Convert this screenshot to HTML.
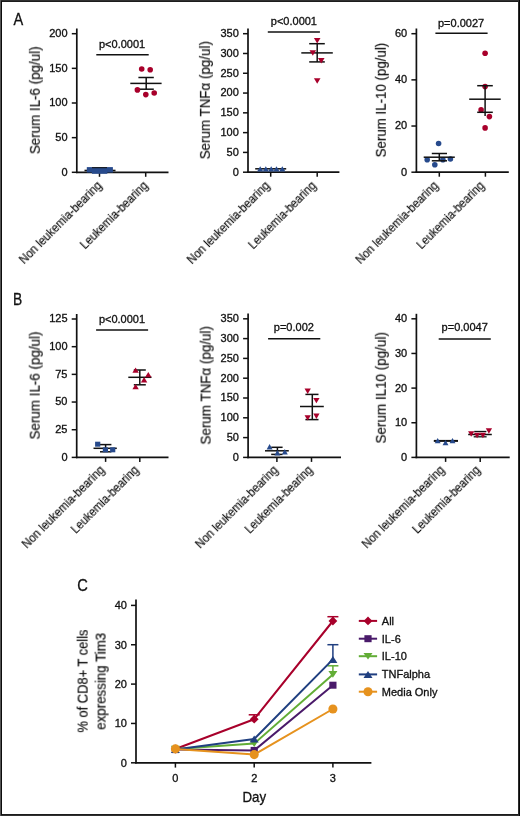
<!DOCTYPE html>
<html><head><meta charset="utf-8"><title>Figure</title><style>html,body{margin:0;padding:0;background:#fff;}body{width:520px;height:816px;overflow:hidden;position:relative;font-family:"Liberation Sans", sans-serif;}</style></head><body>
<svg width="520" height="816" viewBox="0 0 520 816" style="position:absolute;left:0;top:0;font-family:'Liberation Sans', sans-serif;fill:#111">
<defs><filter id="gray" x="-5%" y="-20%" width="110%" height="140%" color-interpolation-filters="sRGB"><feColorMatrix type="saturate" values="0"/></filter></defs>
<style>text{stroke:#111;stroke-width:0.32px;filter:url(#gray);} text.r{stroke-width:0.2px;}</style>
<rect x="0" y="0" width="520" height="816" fill="#fff"/>
<text x="13.50" y="25.00" font-size="16.5" text-anchor="start" textLength="9.7" lengthAdjust="spacingAndGlyphs">A</text>
<text x="13.00" y="304.60" font-size="16.5" text-anchor="start" textLength="9.2" lengthAdjust="spacingAndGlyphs">B</text>
<text x="77.30" y="591.40" font-size="16.5" text-anchor="start" textLength="10.6" lengthAdjust="spacingAndGlyphs">C</text>
<line x1="76.80" y1="28.50" x2="76.80" y2="173.10" stroke="#111" stroke-width="1.7"/>
<line x1="76.00" y1="172.30" x2="168.50" y2="172.30" stroke="#111" stroke-width="1.7"/>
<line x1="71.80" y1="172.30" x2="76.80" y2="172.30" stroke="#111" stroke-width="1.5"/>
<text x="67.60" y="175.70" font-size="11" text-anchor="end" >0</text>
<line x1="71.80" y1="137.65" x2="76.80" y2="137.65" stroke="#111" stroke-width="1.5"/>
<text x="67.60" y="141.05" font-size="11" text-anchor="end" >50</text>
<line x1="71.80" y1="103.00" x2="76.80" y2="103.00" stroke="#111" stroke-width="1.5"/>
<text x="67.60" y="106.40" font-size="11" text-anchor="end" >100</text>
<line x1="71.80" y1="68.35" x2="76.80" y2="68.35" stroke="#111" stroke-width="1.5"/>
<text x="67.60" y="71.75" font-size="11" text-anchor="end" >150</text>
<line x1="71.80" y1="33.70" x2="76.80" y2="33.70" stroke="#111" stroke-width="1.5"/>
<text x="67.60" y="37.10" font-size="11" text-anchor="end" >200</text>
<line x1="99.50" y1="172.30" x2="99.50" y2="176.80" stroke="#111" stroke-width="1.5"/>
<line x1="145.70" y1="172.30" x2="145.70" y2="176.80" stroke="#111" stroke-width="1.5"/>
<text class="r" x="0" y="0" font-size="14.5" text-anchor="middle" transform="translate(39.85,100.35) rotate(-90)" textLength="107.7" lengthAdjust="spacingAndGlyphs">Serum IL-6 (pg/ul)</text>
<text class="r" x="0" y="0" font-size="12.2" text-anchor="end" textLength="110.8" lengthAdjust="spacingAndGlyphs" transform="translate(102.40,186.30) rotate(-45)">Non leukemia-bearing</text>
<text class="r" x="0" y="0" font-size="12.2" text-anchor="end" textLength="89.7" lengthAdjust="spacingAndGlyphs" transform="translate(148.60,186.30) rotate(-45)">Leukemia-bearing</text>
<line x1="96.30" y1="54.70" x2="148.70" y2="54.70" stroke="#111" stroke-width="1.5"/>
<text x="99.00" y="47.80" font-size="11" text-anchor="start" >p&lt;0.0001</text>
<line x1="84.50" y1="170.50" x2="115.50" y2="170.50" stroke="#111" stroke-width="1.6"/>
<rect x="86.80" y="167.10" width="26.10" height="5.40" fill="#274a8c"/>
<rect x="91.90" y="170.00" width="15.40" height="3.80" fill="#274a8c"/>
<line x1="92.00" y1="167.70" x2="107.00" y2="167.70" stroke="#111" stroke-width="1.0"/>
<line x1="146.20" y1="77.50" x2="146.20" y2="89.20" stroke="#111" stroke-width="1.5"/>
<line x1="138.40" y1="77.50" x2="153.80" y2="77.50" stroke="#111" stroke-width="1.5"/>
<line x1="138.40" y1="89.20" x2="153.80" y2="89.20" stroke="#111" stroke-width="1.5"/>
<line x1="130.30" y1="83.40" x2="161.60" y2="83.40" stroke="#111" stroke-width="1.5"/>
<circle cx="141.70" cy="69.00" r="2.8" fill="#a8002b"/>
<circle cx="150.20" cy="69.80" r="2.8" fill="#a8002b"/>
<circle cx="137.40" cy="89.90" r="2.8" fill="#a8002b"/>
<circle cx="145.80" cy="94.60" r="2.8" fill="#a8002b"/>
<circle cx="154.20" cy="93.00" r="2.8" fill="#a8002b"/>
<line x1="248.00" y1="28.50" x2="248.00" y2="173.00" stroke="#111" stroke-width="1.7"/>
<line x1="247.20" y1="172.20" x2="339.40" y2="172.20" stroke="#111" stroke-width="1.7"/>
<line x1="243.00" y1="172.20" x2="248.00" y2="172.20" stroke="#111" stroke-width="1.5"/>
<text x="238.80" y="175.60" font-size="11" text-anchor="end" >0</text>
<line x1="243.00" y1="152.41" x2="248.00" y2="152.41" stroke="#111" stroke-width="1.5"/>
<text x="238.80" y="155.81" font-size="11" text-anchor="end" >50</text>
<line x1="243.00" y1="132.63" x2="248.00" y2="132.63" stroke="#111" stroke-width="1.5"/>
<text x="238.80" y="136.03" font-size="11" text-anchor="end" >100</text>
<line x1="243.00" y1="112.84" x2="248.00" y2="112.84" stroke="#111" stroke-width="1.5"/>
<text x="238.80" y="116.24" font-size="11" text-anchor="end" >150</text>
<line x1="243.00" y1="93.06" x2="248.00" y2="93.06" stroke="#111" stroke-width="1.5"/>
<text x="238.80" y="96.46" font-size="11" text-anchor="end" >200</text>
<line x1="243.00" y1="73.27" x2="248.00" y2="73.27" stroke="#111" stroke-width="1.5"/>
<text x="238.80" y="76.67" font-size="11" text-anchor="end" >250</text>
<line x1="243.00" y1="53.49" x2="248.00" y2="53.49" stroke="#111" stroke-width="1.5"/>
<text x="238.80" y="56.89" font-size="11" text-anchor="end" >300</text>
<line x1="243.00" y1="33.70" x2="248.00" y2="33.70" stroke="#111" stroke-width="1.5"/>
<text x="238.80" y="37.10" font-size="11" text-anchor="end" >350</text>
<line x1="270.70" y1="172.20" x2="270.70" y2="176.70" stroke="#111" stroke-width="1.5"/>
<line x1="317.20" y1="172.20" x2="317.20" y2="176.70" stroke="#111" stroke-width="1.5"/>
<text class="r" x="0" y="0" font-size="14.5" text-anchor="middle" transform="translate(209.90,100.30) rotate(-90)" textLength="118.2" lengthAdjust="spacingAndGlyphs">Serum TNF&#945; (pg/ul)</text>
<text class="r" x="0" y="0" font-size="12.2" text-anchor="end" textLength="110.8" lengthAdjust="spacingAndGlyphs" transform="translate(270.30,186.40) rotate(-45)">Non leukemia-bearing</text>
<text class="r" x="0" y="0" font-size="12.2" text-anchor="end" textLength="89.7" lengthAdjust="spacingAndGlyphs" transform="translate(316.80,186.40) rotate(-45)">Leukemia-bearing</text>
<line x1="267.80" y1="32.00" x2="319.90" y2="32.00" stroke="#111" stroke-width="1.5"/>
<text x="270.80" y="24.50" font-size="11" text-anchor="start" >p&lt;0.0001</text>
<line x1="255.20" y1="168.80" x2="286.20" y2="168.80" stroke="#111" stroke-width="1.5"/>
<polygon points="260.20,166.20 257.10,171.40 263.30,171.40" fill="#274a8c"/>
<polygon points="265.80,166.20 262.70,171.40 268.90,171.40" fill="#274a8c"/>
<polygon points="271.20,166.20 268.10,171.40 274.30,171.40" fill="#274a8c"/>
<polygon points="276.50,166.20 273.40,171.40 279.60,171.40" fill="#274a8c"/>
<polygon points="282.30,166.20 279.20,171.40 285.40,171.40" fill="#274a8c"/>
<line x1="317.20" y1="43.70" x2="317.20" y2="61.90" stroke="#111" stroke-width="1.5"/>
<line x1="309.20" y1="43.70" x2="324.80" y2="43.70" stroke="#111" stroke-width="1.5"/>
<line x1="309.20" y1="61.90" x2="324.80" y2="61.90" stroke="#111" stroke-width="1.5"/>
<line x1="301.30" y1="52.90" x2="332.80" y2="52.90" stroke="#111" stroke-width="1.5"/>
<polygon points="313.90,38.00 320.50,38.00 317.20,43.50" fill="#a8002b"/>
<polygon points="309.50,50.20 316.10,50.20 312.80,55.70" fill="#a8002b"/>
<polygon points="317.95,58.00 324.55,58.00 321.25,63.50" fill="#a8002b"/>
<polygon points="313.90,78.20 320.50,78.20 317.20,83.70" fill="#a8002b"/>
<line x1="416.40" y1="28.50" x2="416.40" y2="173.00" stroke="#111" stroke-width="1.7"/>
<line x1="415.60" y1="172.20" x2="508.80" y2="172.20" stroke="#111" stroke-width="1.7"/>
<line x1="411.40" y1="172.20" x2="416.40" y2="172.20" stroke="#111" stroke-width="1.5"/>
<text x="407.20" y="175.60" font-size="11" text-anchor="end" >0</text>
<line x1="411.40" y1="126.03" x2="416.40" y2="126.03" stroke="#111" stroke-width="1.5"/>
<text x="407.20" y="129.43" font-size="11" text-anchor="end" >20</text>
<line x1="411.40" y1="79.87" x2="416.40" y2="79.87" stroke="#111" stroke-width="1.5"/>
<text x="407.20" y="83.27" font-size="11" text-anchor="end" >40</text>
<line x1="411.40" y1="33.70" x2="416.40" y2="33.70" stroke="#111" stroke-width="1.5"/>
<text x="407.20" y="37.10" font-size="11" text-anchor="end" >60</text>
<line x1="439.30" y1="172.20" x2="439.30" y2="176.70" stroke="#111" stroke-width="1.5"/>
<line x1="485.40" y1="172.20" x2="485.40" y2="176.70" stroke="#111" stroke-width="1.5"/>
<text class="r" x="0" y="0" font-size="14.5" text-anchor="middle" transform="translate(385.80,100.10) rotate(-90)" textLength="114.6" lengthAdjust="spacingAndGlyphs">Serum IL-10 (pg/ul)</text>
<text class="r" x="0" y="0" font-size="12.2" text-anchor="end" textLength="110.8" lengthAdjust="spacingAndGlyphs" transform="translate(438.90,186.40) rotate(-45)">Non leukemia-bearing</text>
<text class="r" x="0" y="0" font-size="12.2" text-anchor="end" textLength="89.7" lengthAdjust="spacingAndGlyphs" transform="translate(485.00,186.40) rotate(-45)">Leukemia-bearing</text>
<line x1="435.40" y1="33.30" x2="487.60" y2="33.30" stroke="#111" stroke-width="1.5"/>
<text x="438.00" y="27.20" font-size="11" text-anchor="start" >p=0.0027</text>
<circle cx="438.60" cy="143.50" r="2.8" fill="#274a8c"/>
<circle cx="427.20" cy="159.80" r="2.8" fill="#274a8c"/>
<circle cx="434.80" cy="164.80" r="2.8" fill="#274a8c"/>
<circle cx="442.90" cy="159.80" r="2.8" fill="#274a8c"/>
<circle cx="450.40" cy="159.00" r="2.8" fill="#274a8c"/>
<line x1="439.30" y1="153.50" x2="439.30" y2="160.80" stroke="#111" stroke-width="1.5"/>
<line x1="431.80" y1="153.50" x2="447.00" y2="153.50" stroke="#111" stroke-width="1.5"/>
<line x1="431.80" y1="160.80" x2="447.00" y2="160.80" stroke="#111" stroke-width="1.5"/>
<line x1="423.70" y1="157.20" x2="454.80" y2="157.20" stroke="#111" stroke-width="1.5"/>
<circle cx="485.10" cy="53.20" r="2.8" fill="#a8002b"/>
<circle cx="485.10" cy="86.60" r="2.8" fill="#a8002b"/>
<circle cx="481.10" cy="109.90" r="2.8" fill="#a8002b"/>
<circle cx="489.40" cy="116.60" r="2.8" fill="#a8002b"/>
<circle cx="485.10" cy="127.90" r="2.8" fill="#a8002b"/>
<line x1="485.10" y1="85.70" x2="485.10" y2="112.30" stroke="#111" stroke-width="1.5"/>
<line x1="477.20" y1="85.70" x2="492.80" y2="85.70" stroke="#111" stroke-width="1.5"/>
<line x1="477.20" y1="112.30" x2="492.80" y2="112.30" stroke="#111" stroke-width="1.5"/>
<line x1="469.20" y1="99.20" x2="500.70" y2="99.20" stroke="#111" stroke-width="1.5"/>
<line x1="485.10" y1="112.30" x2="485.10" y2="116.00" stroke="#111" stroke-width="1.5"/>
<line x1="76.70" y1="314.00" x2="76.70" y2="458.20" stroke="#111" stroke-width="1.7"/>
<line x1="75.90" y1="457.40" x2="168.50" y2="457.40" stroke="#111" stroke-width="1.7"/>
<line x1="71.70" y1="457.40" x2="76.70" y2="457.40" stroke="#111" stroke-width="1.5"/>
<text x="67.50" y="460.80" font-size="11" text-anchor="end" >0</text>
<line x1="71.70" y1="429.72" x2="76.70" y2="429.72" stroke="#111" stroke-width="1.5"/>
<text x="67.50" y="433.12" font-size="11" text-anchor="end" >25</text>
<line x1="71.70" y1="402.04" x2="76.70" y2="402.04" stroke="#111" stroke-width="1.5"/>
<text x="67.50" y="405.44" font-size="11" text-anchor="end" >50</text>
<line x1="71.70" y1="374.36" x2="76.70" y2="374.36" stroke="#111" stroke-width="1.5"/>
<text x="67.50" y="377.76" font-size="11" text-anchor="end" >75</text>
<line x1="71.70" y1="346.68" x2="76.70" y2="346.68" stroke="#111" stroke-width="1.5"/>
<text x="67.50" y="350.08" font-size="11" text-anchor="end" >100</text>
<line x1="71.70" y1="319.00" x2="76.70" y2="319.00" stroke="#111" stroke-width="1.5"/>
<text x="67.50" y="322.40" font-size="11" text-anchor="end" >125</text>
<line x1="105.60" y1="457.40" x2="105.60" y2="461.90" stroke="#111" stroke-width="1.5"/>
<line x1="139.80" y1="457.40" x2="139.80" y2="461.90" stroke="#111" stroke-width="1.5"/>
<text class="r" x="0" y="0" font-size="14.5" text-anchor="middle" transform="translate(39.70,385.50) rotate(-90)" textLength="108.0" lengthAdjust="spacingAndGlyphs">Serum IL-6 (pg/ul)</text>
<text class="r" x="0" y="0" font-size="12.2" text-anchor="end" textLength="110.8" lengthAdjust="spacingAndGlyphs" transform="translate(105.20,470.80) rotate(-45)">Non leukemia-bearing</text>
<text class="r" x="0" y="0" font-size="12.2" text-anchor="end" textLength="89.7" lengthAdjust="spacingAndGlyphs" transform="translate(139.40,470.80) rotate(-45)">Leukemia-bearing</text>
<line x1="96.10" y1="330.10" x2="148.10" y2="330.10" stroke="#111" stroke-width="1.5"/>
<text x="98.90" y="323.20" font-size="11" text-anchor="start" >p&lt;0.0001</text>
<line x1="105.60" y1="444.60" x2="105.60" y2="451.80" stroke="#111" stroke-width="1.5"/>
<line x1="100.00" y1="444.60" x2="111.40" y2="444.60" stroke="#111" stroke-width="1.5"/>
<line x1="100.00" y1="451.80" x2="111.40" y2="451.80" stroke="#111" stroke-width="1.5"/>
<line x1="93.50" y1="448.30" x2="116.80" y2="448.30" stroke="#111" stroke-width="1.5"/>
<rect x="95.10" y="441.70" width="5.20" height="5.00" fill="#274a8c"/>
<rect x="102.80" y="447.30" width="5.20" height="5.00" fill="#274a8c"/>
<rect x="110.10" y="447.30" width="5.20" height="5.00" fill="#274a8c"/>
<line x1="139.80" y1="370.00" x2="139.80" y2="384.80" stroke="#111" stroke-width="1.5"/>
<line x1="133.80" y1="370.00" x2="145.80" y2="370.00" stroke="#111" stroke-width="1.5"/>
<line x1="133.80" y1="384.80" x2="145.80" y2="384.80" stroke="#111" stroke-width="1.5"/>
<line x1="128.30" y1="377.30" x2="151.50" y2="377.30" stroke="#111" stroke-width="1.5"/>
<polygon points="135.60,367.50 132.40,372.80 138.80,372.80" fill="#a8002b"/>
<polygon points="148.30,372.00 145.10,377.30 151.50,377.30" fill="#a8002b"/>
<polygon points="144.10,377.10 140.90,382.40 147.30,382.40" fill="#a8002b"/>
<polygon points="135.60,384.00 132.40,389.30 138.80,389.30" fill="#a8002b"/>
<line x1="248.10" y1="313.60" x2="248.10" y2="458.20" stroke="#111" stroke-width="1.7"/>
<line x1="247.30" y1="457.40" x2="341.00" y2="457.40" stroke="#111" stroke-width="1.7"/>
<line x1="243.10" y1="457.40" x2="248.10" y2="457.40" stroke="#111" stroke-width="1.5"/>
<text x="238.90" y="460.80" font-size="11" text-anchor="end" >0</text>
<line x1="243.10" y1="437.60" x2="248.10" y2="437.60" stroke="#111" stroke-width="1.5"/>
<text x="238.90" y="441.00" font-size="11" text-anchor="end" >50</text>
<line x1="243.10" y1="417.80" x2="248.10" y2="417.80" stroke="#111" stroke-width="1.5"/>
<text x="238.90" y="421.20" font-size="11" text-anchor="end" >100</text>
<line x1="243.10" y1="398.00" x2="248.10" y2="398.00" stroke="#111" stroke-width="1.5"/>
<text x="238.90" y="401.40" font-size="11" text-anchor="end" >150</text>
<line x1="243.10" y1="378.20" x2="248.10" y2="378.20" stroke="#111" stroke-width="1.5"/>
<text x="238.90" y="381.60" font-size="11" text-anchor="end" >200</text>
<line x1="243.10" y1="358.40" x2="248.10" y2="358.40" stroke="#111" stroke-width="1.5"/>
<text x="238.90" y="361.80" font-size="11" text-anchor="end" >250</text>
<line x1="243.10" y1="338.60" x2="248.10" y2="338.60" stroke="#111" stroke-width="1.5"/>
<text x="238.90" y="342.00" font-size="11" text-anchor="end" >300</text>
<line x1="243.10" y1="318.80" x2="248.10" y2="318.80" stroke="#111" stroke-width="1.5"/>
<text x="238.90" y="322.20" font-size="11" text-anchor="end" >350</text>
<line x1="276.90" y1="457.40" x2="276.90" y2="461.90" stroke="#111" stroke-width="1.5"/>
<line x1="311.50" y1="457.40" x2="311.50" y2="461.90" stroke="#111" stroke-width="1.5"/>
<text class="r" x="0" y="0" font-size="14.5" text-anchor="middle" transform="translate(210.60,385.35) rotate(-90)" textLength="118.5" lengthAdjust="spacingAndGlyphs">Serum TNF&#945; (pg/ul)</text>
<text class="r" x="0" y="0" font-size="12.2" text-anchor="end" textLength="110.8" lengthAdjust="spacingAndGlyphs" transform="translate(278.60,470.80) rotate(-45)">Non leukemia-bearing</text>
<text class="r" x="0" y="0" font-size="12.2" text-anchor="end" textLength="89.7" lengthAdjust="spacingAndGlyphs" transform="translate(313.30,470.80) rotate(-45)">Leukemia-bearing</text>
<line x1="268.10" y1="338.80" x2="320.30" y2="338.80" stroke="#111" stroke-width="1.5"/>
<text x="273.80" y="331.00" font-size="11" text-anchor="start" >p=0.002</text>
<line x1="277.40" y1="447.30" x2="277.40" y2="454.40" stroke="#111" stroke-width="1.5"/>
<line x1="271.20" y1="447.30" x2="282.60" y2="447.30" stroke="#111" stroke-width="1.5"/>
<line x1="271.20" y1="454.40" x2="282.60" y2="454.40" stroke="#111" stroke-width="1.5"/>
<line x1="265.00" y1="450.80" x2="288.80" y2="450.80" stroke="#111" stroke-width="1.5"/>
<polygon points="269.60,444.10 266.60,449.40 272.60,449.40" fill="#274a8c"/>
<polygon points="277.40,450.10 274.40,455.40 280.40,455.40" fill="#274a8c"/>
<polygon points="284.80,449.10 281.80,454.40 287.80,454.40" fill="#274a8c"/>
<line x1="312.30" y1="394.40" x2="312.30" y2="419.60" stroke="#111" stroke-width="1.5"/>
<line x1="305.40" y1="394.40" x2="318.50" y2="394.40" stroke="#111" stroke-width="1.5"/>
<line x1="305.40" y1="419.60" x2="318.50" y2="419.60" stroke="#111" stroke-width="1.5"/>
<line x1="300.00" y1="406.50" x2="323.80" y2="406.50" stroke="#111" stroke-width="1.5"/>
<polygon points="304.55,388.60 310.85,388.60 307.70,393.90" fill="#a8002b"/>
<polygon points="313.25,397.90 319.55,397.90 316.40,403.20" fill="#a8002b"/>
<polygon points="313.25,413.60 319.55,413.60 316.40,418.90" fill="#a8002b"/>
<polygon points="304.55,415.20 310.85,415.20 307.70,420.50" fill="#a8002b"/>
<line x1="416.40" y1="313.80" x2="416.40" y2="458.20" stroke="#111" stroke-width="1.7"/>
<line x1="415.60" y1="457.40" x2="509.70" y2="457.40" stroke="#111" stroke-width="1.7"/>
<line x1="411.40" y1="457.40" x2="416.40" y2="457.40" stroke="#111" stroke-width="1.5"/>
<text x="407.20" y="460.80" font-size="11" text-anchor="end" >0</text>
<line x1="411.40" y1="422.75" x2="416.40" y2="422.75" stroke="#111" stroke-width="1.5"/>
<text x="407.20" y="426.15" font-size="11" text-anchor="end" >10</text>
<line x1="411.40" y1="388.10" x2="416.40" y2="388.10" stroke="#111" stroke-width="1.5"/>
<text x="407.20" y="391.50" font-size="11" text-anchor="end" >20</text>
<line x1="411.40" y1="353.45" x2="416.40" y2="353.45" stroke="#111" stroke-width="1.5"/>
<text x="407.20" y="356.85" font-size="11" text-anchor="end" >30</text>
<line x1="411.40" y1="318.80" x2="416.40" y2="318.80" stroke="#111" stroke-width="1.5"/>
<text x="407.20" y="322.20" font-size="11" text-anchor="end" >40</text>
<line x1="445.60" y1="457.40" x2="445.60" y2="461.90" stroke="#111" stroke-width="1.5"/>
<line x1="480.20" y1="457.40" x2="480.20" y2="461.90" stroke="#111" stroke-width="1.5"/>
<text class="r" x="0" y="0" font-size="14.5" text-anchor="middle" transform="translate(385.80,387.75) rotate(-90)" textLength="111.3" lengthAdjust="spacingAndGlyphs">Serum IL10 (pg/ul)</text>
<text class="r" x="0" y="0" font-size="12.2" text-anchor="end" textLength="110.8" lengthAdjust="spacingAndGlyphs" transform="translate(445.20,470.80) rotate(-45)">Non leukemia-bearing</text>
<text class="r" x="0" y="0" font-size="12.2" text-anchor="end" textLength="89.7" lengthAdjust="spacingAndGlyphs" transform="translate(480.90,470.80) rotate(-45)">Leukemia-bearing</text>
<line x1="438.70" y1="339.00" x2="490.80" y2="339.00" stroke="#111" stroke-width="1.5"/>
<text x="441.60" y="331.40" font-size="11" text-anchor="start" >p=0.0047</text>
<line x1="433.80" y1="440.90" x2="458.00" y2="440.90" stroke="#111" stroke-width="2.0"/>
<polygon points="437.70,438.00 434.75,443.30 440.65,443.30" fill="#274a8c"/>
<polygon points="445.50,439.90 442.55,445.20 448.45,445.20" fill="#274a8c"/>
<polygon points="452.50,438.00 449.55,443.30 455.45,443.30" fill="#274a8c"/>
<line x1="468.20" y1="434.50" x2="491.80" y2="434.50" stroke="#111" stroke-width="1.5"/>
<line x1="474.20" y1="431.50" x2="486.40" y2="431.50" stroke="#111" stroke-width="1.3"/>
<line x1="473.70" y1="436.80" x2="486.60" y2="436.80" stroke="#111" stroke-width="1.3"/>
<polygon points="468.05,431.20 474.35,431.20 471.20,436.70" fill="#a8002b"/>
<polygon points="473.95,432.80 480.25,432.80 477.10,438.30" fill="#a8002b"/>
<polygon points="479.75,432.80 486.05,432.80 482.90,438.30" fill="#a8002b"/>
<polygon points="485.75,428.30 492.05,428.30 488.90,433.80" fill="#a8002b"/>
<line x1="136.00" y1="599.60" x2="136.00" y2="763.60" stroke="#111" stroke-width="1.7"/>
<line x1="135.20" y1="762.80" x2="371.40" y2="762.80" stroke="#111" stroke-width="1.7"/>
<line x1="131.00" y1="762.80" x2="136.00" y2="762.80" stroke="#111" stroke-width="1.5"/>
<text x="126.90" y="766.80" font-size="11" text-anchor="end" >0</text>
<line x1="131.00" y1="723.45" x2="136.00" y2="723.45" stroke="#111" stroke-width="1.5"/>
<text x="126.90" y="727.45" font-size="11" text-anchor="end" >10</text>
<line x1="131.00" y1="684.10" x2="136.00" y2="684.10" stroke="#111" stroke-width="1.5"/>
<text x="126.90" y="688.10" font-size="11" text-anchor="end" >20</text>
<line x1="131.00" y1="644.75" x2="136.00" y2="644.75" stroke="#111" stroke-width="1.5"/>
<text x="126.90" y="648.75" font-size="11" text-anchor="end" >30</text>
<line x1="131.00" y1="605.40" x2="136.00" y2="605.40" stroke="#111" stroke-width="1.5"/>
<text x="126.90" y="609.40" font-size="11" text-anchor="end" >40</text>
<line x1="175.40" y1="762.80" x2="175.40" y2="767.60" stroke="#111" stroke-width="1.5"/>
<text x="175.40" y="781.90" font-size="11" text-anchor="middle" >0</text>
<line x1="254.20" y1="762.80" x2="254.20" y2="767.60" stroke="#111" stroke-width="1.5"/>
<text x="254.20" y="781.90" font-size="11" text-anchor="middle" >2</text>
<line x1="332.90" y1="762.80" x2="332.90" y2="767.60" stroke="#111" stroke-width="1.5"/>
<text x="332.90" y="781.90" font-size="11" text-anchor="middle" >3</text>
<text x="254.30" y="801.80" font-size="14.5" text-anchor="middle" textLength="23.6" lengthAdjust="spacingAndGlyphs">Day</text>
<text class="r" x="0" y="0" font-size="14" text-anchor="middle" textLength="103" lengthAdjust="spacingAndGlyphs" transform="translate(87.6,681.1) rotate(-90)">% of CD8+ T cells</text>
<text class="r" x="0" y="0" font-size="14" text-anchor="middle" textLength="97" lengthAdjust="spacingAndGlyphs" transform="translate(105.6,681.35) rotate(-90)">expressing Tim3</text>
<line x1="254.20" y1="714.80" x2="254.20" y2="719.20" stroke="#a8002b" stroke-width="1.5"/>
<line x1="248.70" y1="714.80" x2="259.70" y2="714.80" stroke="#a8002b" stroke-width="1.5"/>
<line x1="332.90" y1="616.70" x2="332.90" y2="621.00" stroke="#a8002b" stroke-width="1.5"/>
<line x1="327.40" y1="616.70" x2="338.40" y2="616.70" stroke="#a8002b" stroke-width="1.5"/>
<polyline points="175.40,749.00 254.20,719.20 332.90,621.00" fill="none" stroke="#a8002b" stroke-width="2.0" stroke-linejoin="round"/>
<polygon points="175.40,744.60 179.80,749.00 175.40,753.40 171.00,749.00" fill="#a8002b"/>
<polygon points="254.20,714.80 258.60,719.20 254.20,723.60 249.80,719.20" fill="#a8002b"/>
<polygon points="332.90,616.60 337.30,621.00 332.90,625.40 328.50,621.00" fill="#a8002b"/>
<polyline points="175.40,749.60 254.20,750.40 332.90,685.20" fill="none" stroke="#4a1a6a" stroke-width="2.0" stroke-linejoin="round"/>
<rect x="171.80" y="746.10" width="7.20" height="7.00" fill="#4a1a6a"/>
<rect x="250.60" y="746.90" width="7.20" height="7.00" fill="#4a1a6a"/>
<rect x="329.30" y="681.70" width="7.20" height="7.00" fill="#4a1a6a"/>
<line x1="332.90" y1="665.80" x2="332.90" y2="674.40" stroke="#62ad36" stroke-width="1.5"/>
<line x1="327.40" y1="665.80" x2="338.40" y2="665.80" stroke="#62ad36" stroke-width="1.5"/>
<polyline points="175.40,749.00 254.20,743.60 332.90,674.40" fill="none" stroke="#62ad36" stroke-width="2.0" stroke-linejoin="round"/>
<polygon points="170.90,745.70 179.90,745.70 175.40,752.40" fill="#62ad36"/>
<polygon points="249.70,740.30 258.70,740.30 254.20,747.00" fill="#62ad36"/>
<polygon points="328.40,671.10 337.40,671.10 332.90,677.80" fill="#62ad36"/>
<line x1="332.90" y1="644.70" x2="332.90" y2="659.40" stroke="#203f80" stroke-width="1.5"/>
<line x1="327.40" y1="644.70" x2="338.40" y2="644.70" stroke="#203f80" stroke-width="1.5"/>
<polyline points="175.40,749.60 254.20,739.00 332.90,659.40" fill="none" stroke="#203f80" stroke-width="2.0" stroke-linejoin="round"/>
<polygon points="175.40,746.20 170.90,753.10 179.90,753.10" fill="#203f80"/>
<polygon points="254.20,735.60 249.70,742.50 258.70,742.50" fill="#203f80"/>
<polygon points="332.90,656.00 328.40,662.90 337.40,662.90" fill="#203f80"/>
<polyline points="175.40,748.90 254.20,754.60 332.90,709.00" fill="none" stroke="#e6921e" stroke-width="2.0" stroke-linejoin="round"/>
<circle cx="175.40" cy="748.90" r="4.55" fill="#e6921e"/>
<circle cx="254.20" cy="754.60" r="4.55" fill="#e6921e"/>
<circle cx="332.90" cy="709.00" r="4.55" fill="#e6921e"/>
<line x1="358.80" y1="620.90" x2="377.10" y2="620.90" stroke="#a8002b" stroke-width="2.0"/>
<polygon points="368.00,616.50 372.40,620.90 368.00,625.30 363.60,620.90" fill="#a8002b"/>
<text x="381.80" y="624.90" font-size="11" text-anchor="start" >All</text>
<line x1="358.80" y1="638.70" x2="377.10" y2="638.70" stroke="#4a1a6a" stroke-width="2.0"/>
<rect x="364.40" y="635.20" width="7.20" height="7.00" fill="#4a1a6a"/>
<text x="381.80" y="642.70" font-size="11" text-anchor="start" >IL-6</text>
<line x1="358.80" y1="656.20" x2="377.10" y2="656.20" stroke="#62ad36" stroke-width="2.0"/>
<polygon points="363.50,652.90 372.50,652.90 368.00,659.60" fill="#62ad36"/>
<text x="381.80" y="660.20" font-size="11" text-anchor="start" >IL-10</text>
<line x1="358.80" y1="674.40" x2="377.10" y2="674.40" stroke="#203f80" stroke-width="2.0"/>
<polygon points="368.00,671.00 363.50,677.90 372.50,677.90" fill="#203f80"/>
<text x="381.80" y="678.40" font-size="11" text-anchor="start" >TNFalpha</text>
<line x1="358.80" y1="691.70" x2="377.10" y2="691.70" stroke="#e6921e" stroke-width="2.0"/>
<circle cx="368.00" cy="691.70" r="4.55" fill="#e6921e"/>
<text x="381.80" y="695.70" font-size="11" text-anchor="start" >Media Only</text>
<rect x="0" y="0" width="520" height="1" fill="#303030"/>
<rect x="0" y="1" width="520" height="1" fill="#1c1c1c"/>
<rect x="0" y="815" width="520" height="1" fill="#303030"/>
<rect x="0" y="814" width="520" height="1" fill="#1c1c1c"/>
<rect x="0" y="0" width="1" height="816" fill="#555555"/>
<rect x="1" y="1" width="1" height="814" fill="#0c0c0c"/>
<rect x="519" y="0" width="1" height="816" fill="#080808"/>
<rect x="518" y="1" width="1" height="814" fill="#2a2a2a"/>
</svg>
</body></html>
